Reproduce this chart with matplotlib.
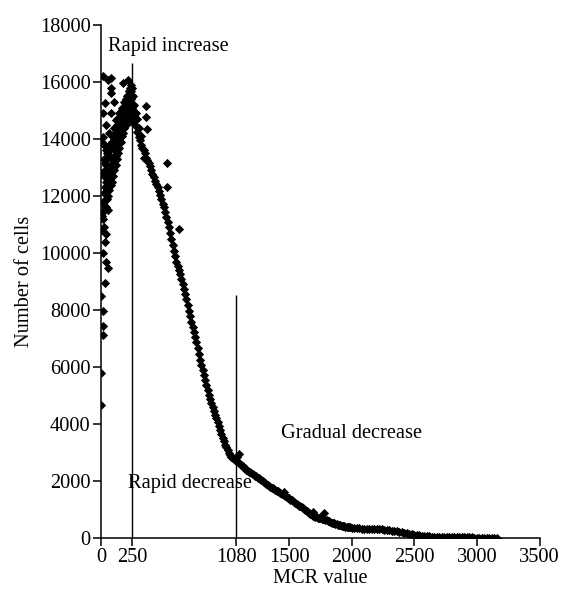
import matplotlib.pyplot as plt

plt.rcParams['font.family'] = ['Liberation Serif', 'DejaVu Serif']

# rising part (MCR 0-250): main band, read as several rows across the wedge
rise_mcr = [10, 15, 20, 25, 30, 35, 40, 45, 50, 55, 60, 65, 70, 75, 80, 85,
            90, 95, 100, 105, 110, 115, 120, 125, 130, 135, 140, 145, 150,
            155, 160, 165, 170, 175, 180, 185, 190, 195, 200, 205, 210, 215,
            220, 225, 230, 235, 240, 245, 250,
            20, 30, 40, 50, 60, 70, 80, 90, 100, 110, 120, 130, 140, 150,
            160, 170, 180, 190, 200, 210, 220, 230, 240,
            15, 25, 35, 45, 55, 65, 75, 85, 95, 105, 115, 125, 135, 145, 155,
            165, 175, 185, 195, 205, 215, 225, 235, 245,
            25, 45, 65, 85, 105, 125, 145, 165, 185, 205, 225, 245]
rise_cells = [11300, 11800, 12100, 11700, 12300, 11900, 12500, 12200, 12700,
              12400, 12700, 12500, 12900, 12700, 13100, 12900, 13300, 13000,
              13400, 13200, 13600, 13400, 13800, 13600, 14000, 13800, 14200,
              14000, 14300, 14200, 14500, 14400, 14700, 14600, 14900, 14800,
              15000, 14900, 15200, 15100, 15300, 15200, 15400, 15300, 15500,
              15400, 15700, 15100, 15500,
              12700, 12900, 13100, 13300, 13400, 13600, 13700, 13900, 14000,
              14200, 14300, 14500, 14600, 14700, 14900, 15000, 15100, 15300,
              15400, 15500, 15700, 15800, 15900,
              11200, 11500, 11600, 11900, 12000, 12200, 12400, 12500, 12700,
              12900, 13100, 13300, 13500, 13700, 13900, 14100, 14200, 14400,
              14500, 14700, 14800, 14900, 14800, 14600,
              13300, 13500, 13800, 14100, 14400, 14700, 14900, 15100, 15300,
              15500, 15700, 15800]

scatter_mcr = [13, 53, 75, 27, 80, 106, 13, 80, 120, 13, 40, 27, 213, 173, 80,
               8, 5, 5, 20, 13, 53, 0, 40, 27, 13, 40, 53, 27, 0, 13, 13, 13,
               0, 0, 35, 60, 22]
scatter_cells = [16200, 16070, 16150, 15250, 15600, 15300, 14900, 14900, 14670,
                 14080, 13610, 13150, 16070, 15950, 15780, 13900, 12800, 11400,
                 10900, 11800, 11510, 10800, 10650, 10400, 9990, 9700, 9460,
                 8930, 8480, 7950, 7440, 7120, 5780, 4670, 14500, 14200, 13800]

# falling part (MCR 250-1100)
fall_mcr = [250, 260, 270, 280, 290, 300, 310, 320, 330, 340, 350, 360, 370,
            380, 390, 400, 410, 420, 430, 440, 450, 460, 470, 480, 490, 500,
            510, 520, 530, 540, 550, 560, 570, 580, 590, 600, 610, 620, 630,
            640, 650, 660, 670, 680, 690, 700, 710, 720, 730, 740, 750, 760,
            770, 780, 790, 800, 810, 820, 830, 840, 850, 860, 870, 880, 890,
            900, 910, 920, 930, 940, 950, 960, 970, 980, 990, 1000, 1010, 1020,
            1030, 1040, 1050, 1060, 1070, 1080, 1090, 1100,
            255, 265, 275, 285, 300, 320, 340, 357, 357, 365, 524, 524, 625,
            1100, 1085]
fall_cells = [15000, 14900, 14700, 14450, 14250, 14080, 13950, 13800, 13700,
              13600, 13500, 13350, 13250, 13150, 13050, 12920, 12780, 12650,
              12520, 12420, 12300, 12180, 12030, 11880, 11730, 11600, 11450,
              11280, 11100, 10900, 10700, 10480, 10280, 10080, 9880, 9700, 9550,
              9400, 9250, 9080, 8900, 8720, 8550, 8380, 8180, 7980, 7780, 7580,
              7400, 7220, 7050, 6870, 6680, 6470, 6260, 6080, 5900, 5730, 5560,
              5380, 5200, 5020, 4870, 4720, 4580, 4450, 4330, 4200, 4060, 3920,
              3780, 3640, 3520, 3400, 3280, 3180, 3080, 2990, 2910, 2850, 2800,
              2760, 2720, 2690, 2660, 2620,
              15500, 15200, 14900, 14700, 14400, 14100, 13350, 15170, 14780,
              14350, 13170, 12300, 10830, 2950, 2850]

# tail (MCR 1100-3160)
tail_mcr = [1110, 1120, 1130, 1140, 1150, 1160, 1170, 1180, 1190, 1200, 1210,
            1220, 1230, 1240, 1250, 1260, 1270, 1280, 1290, 1300, 1310, 1320,
            1330, 1340, 1350, 1360, 1370, 1380, 1390, 1400, 1410, 1420, 1430,
            1440, 1450, 1460, 1470, 1480, 1490, 1500, 1510, 1520, 1530, 1540,
            1550, 1560, 1570, 1580, 1590, 1600, 1610, 1620, 1630, 1640, 1650,
            1660, 1670, 1680, 1690, 1700, 1710, 1720, 1730, 1740, 1750, 1760,
            1770, 1780, 1790, 1800, 1810, 1820, 1830, 1840, 1850, 1860, 1870,
            1880, 1890, 1900, 1910, 1920, 1930, 1940, 1950, 1960, 1970, 1980,
            1990, 2000,
            2020, 2040, 2060, 2080, 2100, 2120, 2140, 2160, 2180, 2200, 2220,
            2240, 2260, 2280, 2300, 2320, 2340, 2360, 2380, 2400, 2420, 2440,
            2460, 2480, 2500, 2520, 2540, 2560, 2580, 2600, 2620, 2640, 2660,
            2680, 2700, 2720, 2740, 2760, 2780, 2800, 2820, 2840, 2860, 2880,
            2900, 2920, 2940, 2960, 2980, 3000, 3020, 3040, 3060, 3080, 3100,
            3120, 3140, 3160,
            1777, 1460, 1690]
tail_cells = [2590, 2550, 2520, 2470, 2440, 2400, 2350, 2320, 2300, 2270, 2250,
              2220, 2190, 2160, 2120, 2090, 2070, 2040, 2010, 1980, 1940, 1900,
              1870, 1830, 1800, 1770, 1740, 1710, 1690, 1660, 1650, 1620, 1590,
              1560, 1530, 1500, 1470, 1440, 1420, 1390, 1350, 1320, 1290, 1260,
              1230, 1200, 1160, 1130, 1110, 1080, 1040, 1010, 980, 950, 910,
              880, 840, 810, 780, 760, 740, 720, 710, 700, 690, 680, 670, 660,
              640, 620, 600, 590, 560, 540, 520, 510, 490, 480, 460, 450, 440,
              430, 420, 410, 400, 390, 385, 380, 370, 360,
              350, 345, 340, 330, 320, 315, 310, 310, 310, 310, 305, 300, 295,
              285, 270, 262, 250, 235, 220, 200, 185, 170, 150, 135, 120, 105,
              95, 85, 70, 60, 55, 50, 48, 45, 40, 38, 35, 32, 30, 30, 28, 25,
              25, 22, 20, 20, 20, 18, 17, 15, 15, 15, 14, 12, 10, 10, 10, 10,
              860, 1620, 900]

x_ticks = [0, 250, 1080, 1500, 2000, 2500, 3000, 3500]
y_ticks = [0, 2000, 4000, 6000, 8000, 10000, 12000, 14000, 16000, 18000]

fig = plt.figure(figsize=(5.65, 5.91), dpi=100)
ax = fig.add_axes([0.179, 0.0897, 0.776, 0.868])

for xs, ys in [(rise_mcr, rise_cells), (scatter_mcr, scatter_cells),
               (fall_mcr, fall_cells), (tail_mcr, tail_cells)]:
    ax.scatter(xs, ys, marker='D', s=22, color='black', linewidths=0)

# phase boundaries
ax.vlines(250, 0, 16650, color='black', linewidth=1.0)
ax.vlines(1080, 0, 8530, color='black', linewidth=1.0)

fs = 14.7
ax.text(56, 17260, 'Rapid increase', fontsize=fs, va='center', ha='left')
ax.text(215, 1895, 'Rapid decrease', fontsize=fs, va='center', ha='left')
ax.text(1437, 3680, 'Gradual decrease', fontsize=fs, va='center', ha='left')

ax.set_xlim(0, 3500)
ax.set_ylim(0, 18000)
ax.set_xticks(x_ticks)
ax.set_yticks(y_ticks)
ax.set_xlabel('MCR value', fontsize=fs, labelpad=1)
ax.set_ylabel('Number of cells', fontsize=fs, labelpad=4)
ax.tick_params(labelsize=fs, length=5.5, width=1.1, direction='out', pad=2)

for side in ['top', 'right']:
    ax.spines[side].set_visible(False)
for side in ['left', 'bottom']:
    ax.spines[side].set_linewidth(1.1)

fig.savefig('out.png', dpi=100)
